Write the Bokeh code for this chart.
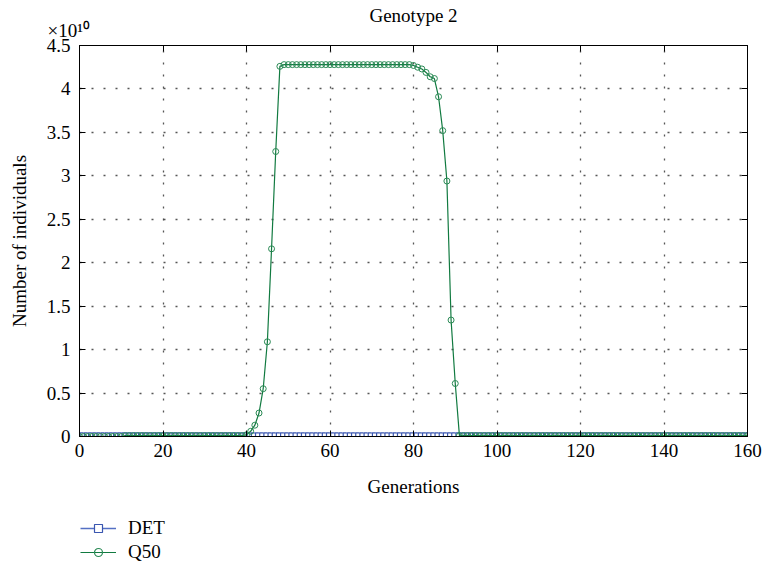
from bokeh.plotting import figure
from bokeh.layouts import column
from bokeh.models import (Range1d, LinearAxis, FixedTicker, CustomJSTickFormatter,
                          Legend, LegendItem, Title, Grid)
from bokeh.embed import file_html
from bokeh.resources import INLINE

# generations 0..160
generations = list(range(0, 161))

# deterministic model: stays at zero (units of 1e10 individuals)
det = [0.0] * 161

# Q50 trajectory (units of 1e10 individuals)
q50 = ([0.0] * 11 + [0.01] * 29 +
       [0.02, 0.06, 0.13, 0.27, 0.55, 1.09, 2.16, 3.28, 4.26] +
       [4.28] * 31 +
       [4.27, 4.25, 4.23, 4.19, 4.14, 4.12, 3.91, 3.52, 2.94, 1.34, 0.61] +
       [0.01] * 70)

x_ticks = [0, 20, 40, 60, 80, 100, 120, 140, 160]
y_ticks = [0, 0.5, 1, 1.5, 2, 2.5, 3, 3.5, 4, 4.5]

FONT = "Liberation Serif"
TICK_PX = "19px"

blue = "#3a56b0"
blue_line = "#5470c4"
green = "#117a40"
green_mark = "#2a8a55"

p = figure(width=763, height=505, output_backend="svg", toolbar_location=None,
           x_range=Range1d(0, 160), y_range=Range1d(0, 4.5),
           x_axis_type=None, y_axis_type=None,
           min_border_left=79, min_border_right=16,
           min_border_top=45, min_border_bottom=69)
p.outline_line_color = "black"
p.background_fill_color = "white"
p.border_fill_color = "white"

fmt = CustomJSTickFormatter(code="return tick.toString();")


def make_axis(ticks, show_labels):
    ax = LinearAxis(ticker=FixedTicker(ticks=ticks), formatter=fmt)
    ax.axis_line_color = "black"
    ax.axis_line_width = 1
    ax.major_tick_in = 6
    ax.major_tick_out = 0
    ax.major_tick_line_color = "black"
    ax.minor_tick_line_color = None
    if show_labels:
        ax.major_label_text_font = FONT
        ax.major_label_text_font_size = TICK_PX
        ax.major_label_text_color = "black"
        ax.major_label_standoff = 7
    else:
        ax.major_label_text_font_size = "0px"
        ax.major_label_text_alpha = 0
        ax.major_label_standoff = 0
    return ax


xb = make_axis(x_ticks, True)
xb.axis_label = "Generations"
xb.axis_label_text_font = FONT
xb.axis_label_text_font_size = TICK_PX
xb.axis_label_text_font_style = "normal"
xb.axis_label_text_color = "black"
xb.axis_label_standoff = 16
p.add_layout(xb, "below")

yl = make_axis(y_ticks, True)
yl.axis_label = "Number of individuals"
yl.axis_label_text_font = FONT
yl.axis_label_text_font_size = TICK_PX
yl.axis_label_text_font_style = "normal"
yl.axis_label_text_color = "black"
yl.axis_label_standoff = 14
yl.major_label_standoff = 9
p.add_layout(yl, "left")

p.add_layout(make_axis(x_ticks, False), "above")
p.add_layout(make_axis(y_ticks, False), "right")

# dotted grid
for dim, ticks in ((0, x_ticks), (1, y_ticks)):
    g = Grid(dimension=dim, ticker=FixedTicker(ticks=ticks))
    g.grid_line_color = "#444444"
    g.grid_line_alpha = 0.9
    g.grid_line_dash = "2 10"
    g.grid_line_width = 1.3
    p.add_layout(g)

p.title.text = "Genotype 2"
p.title.align = "center"
p.title.text_font = FONT
p.title.text_font_size = "19px"
p.title.text_font_style = "normal"
p.title.text_color = "black"
p.title.standoff = -26

# exponent of the y axis scale
expo = Title(text="\u00d710\u00b9\u2070", align="left", offset=-32, standoff=10,
             text_font=FONT, text_font_size="19px", text_font_style="normal",
             text_color="black")
p.add_layout(expo, "above")

p.line(generations, det, line_color=blue_line, line_width=1.6)
p.scatter(generations, det, marker="square", size=7,
          line_color=blue, fill_color="white", line_width=1.2)
p.line(generations, q50, line_color=green, line_width=1.2)
p.scatter(generations, q50, marker="circle", size=6,
          line_color=green_mark, fill_color=None, line_width=1)

# legend strip underneath the chart (key glyphs sit outside its visible range)
lf = figure(width=763, height=64, output_backend="svg", toolbar_location=None,
            x_range=Range1d(0, 1), y_range=Range1d(0, 1),
            x_axis_type=None, y_axis_type=None,
            min_border_left=0, min_border_right=0,
            min_border_top=0, min_border_bottom=0)
lf.outline_line_color = None
lf.xgrid.visible = False
lf.ygrid.visible = False
lf.border_fill_color = "white"
lf.background_fill_color = "white"

kd_l = lf.line([-5, -4], [-5, -5], line_color=blue_line, line_width=1.6)
kd_m = lf.scatter([-5], [-5], marker="square", size=6, line_color=blue,
                  fill_color="white", line_width=1.2)
kq_l = lf.line([-5, -4], [-5, -5], line_color=green, line_width=1.2)
kq_m = lf.scatter([-5], [-5], marker="circle", size=6, line_color=green_mark,
                  fill_color=None, line_width=1.2)

legend = Legend(items=[LegendItem(label="DET", renderers=[kd_l, kd_m]),
                       LegendItem(label="Q50", renderers=[kq_l, kq_m])],
                location=(1, 6))
legend.border_line_color = None
legend.background_fill_alpha = 0
legend.label_text_font = FONT
legend.label_text_font_size = TICK_PX
legend.label_text_color = "black"
legend.glyph_width = 36
legend.label_standoff = 12
legend.spacing = 2
legend.padding = 0
legend.margin = 0
lf.add_layout(legend)

layout = column(p, lf, spacing=0)
open("out.html", "w").write(file_html(layout, INLINE))
